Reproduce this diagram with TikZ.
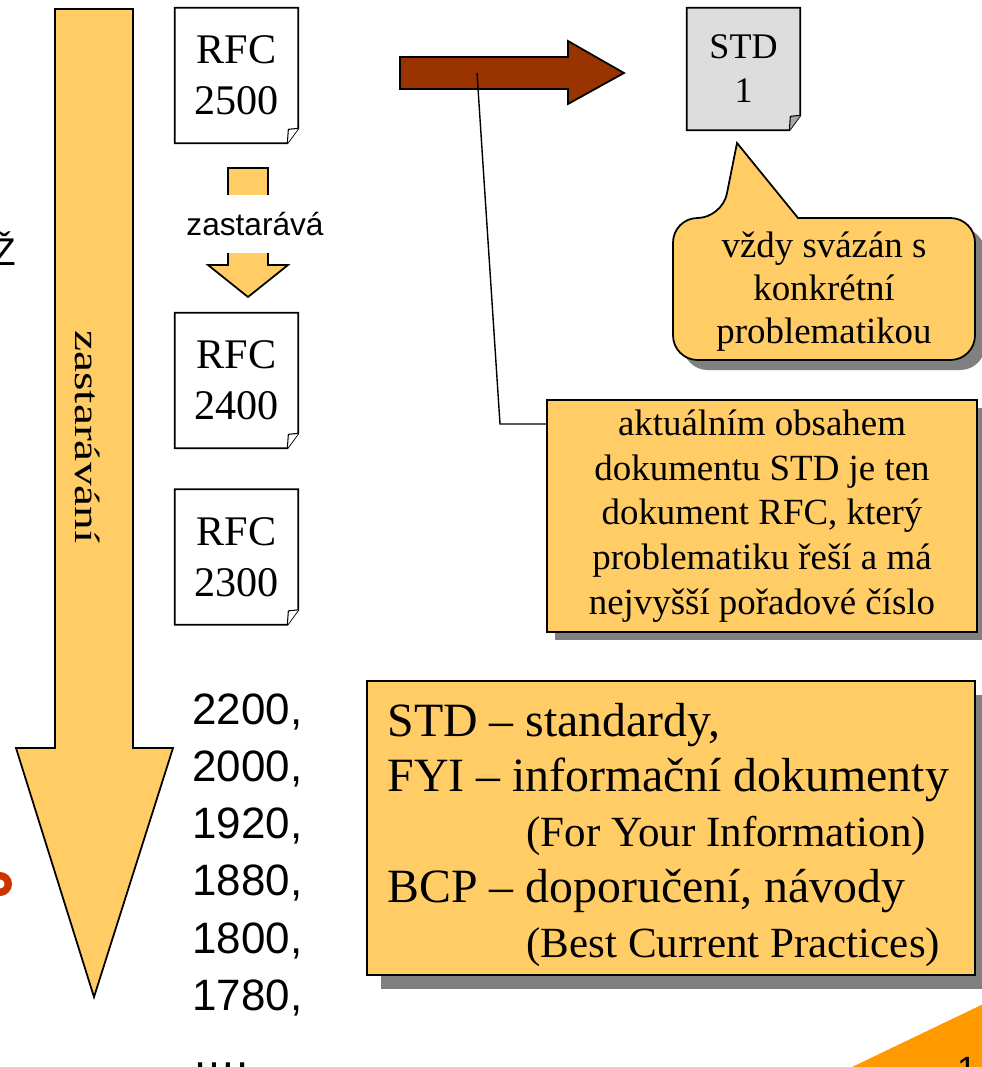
\documentclass[tikz,border=0pt]{standalone}
\usepackage{fontspec}
\setmainfont{Liberation Serif}
\setsansfont{Liberation Sans}
\usetikzlibrary{shadows,backgrounds}
\definecolor{zluta}{HTML}{FFCC66}
\definecolor{hneda}{HTML}{993300}
\definecolor{seda}{HTML}{DDDDDD}
\definecolor{stin}{HTML}{808080}
\definecolor{oranzova}{HTML}{FF9900}
\definecolor{cervena}{HTML}{CC3300}
\newcommand{\mensi}{\fontsize{24.5pt}{31.5pt}\selectfont}

\begin{document}
\begin{tikzpicture}[x=0.02cm, y=-0.02cm,
        dokument/.style={minimum width=2.46cm, minimum height=2.7cm, inner sep=0pt, align=center, font=\fontsize{24pt}{29pt}\selectfont},
        sipka/.style={fill=zluta, draw=black, line width=1pt},
        ramec/.style={fill=zluta, draw=black, line width=1pt, drop shadow={shadow xshift=#1, shadow yshift=-#1, fill=stin, opacity=1}},
        ramec/.default=0.16cm,
        cisla/.style={font=\sffamily\fontsize{25pt}{32.6pt}\selectfont, align=left, inner sep=0pt}
    ]
        \useasboundingbox (0,0) rectangle (982,1067);

        % Okraje snimku
        \node[font=\sffamily\fontsize{22pt}{26pt}\selectfont, anchor=base east, inner sep=0pt] (pismeno) at (16,266) {Ž};
        \draw[cervena, line width=4.2pt] (0,884) circle[radius=0.166cm];
        \fill[oranzova] (852,1067) -- (1000,996) -- (1000,1080) -- (852,1080) -- cycle;
        \node[font=\sffamily\fontsize{20pt}{24pt}\selectfont, anchor=north, inner sep=0pt] (strana) at (967,1057) {1};

        % Velka sipka
        \draw[sipka] (55,9) -- (133,9) -- (133,748) -- (173,748) -- (94,997) -- (16,748) -- (55,748) -- cycle;
        \node[rotate=-90, inner sep=0pt, font=\fontsize{20pt}{24pt}\selectfont] (zastaravani) at (88,437) {\scalebox{1.35}[1]{zastarávání}};

        % Mala sipka
        \draw[sipka] (228,168) -- (268,168) -- (268,265) -- (288,265) -- (248,297) -- (208,265) -- (228,265) -- cycle;
        \node[fill=white, minimum height=1.16cm, inner sep=1pt, font=\sffamily\fontsize{18pt}{22pt}\selectfont] (zastarava) at (255,224) {zastarává};

        % Dokumenty
        \node[dokument] (rfcA) at (236.5,75.5) {RFC\\2500};
        \node[dokument] (rfcB) at (236.5,380.5) {RFC\\2400};
        \node[dokument] (rfcC) at (236.5,557) {RFC\\2300};
        \node[dokument, minimum width=2.26cm, minimum height=2.44cm, font=\fontsize{20.5pt}{25pt}\selectfont] (std) at (743.5,69) {STD\\1};
        \begin{scope}[on background layer]
            \foreach \d/\barva/\ohyb in {rfcA/white/white, rfcB/white/white, rfcC/white/white, std/seda/seda!75!black}{
                \draw[fill=\barva, line width=1pt] (\d.north west) -- (\d.north east) -- ([yshift=0.3cm]\d.south east) -- ([xshift=-0.22cm]\d.south east) -- (\d.south west) -- cycle;
                \draw[fill=\ohyb, line width=0.6pt] ([yshift=0.3cm]\d.south east) -- ([xshift=-0.2cm, yshift=0.28cm]\d.south east) -- ([xshift=-0.22cm]\d.south east);
            }
        \end{scope}

        % Hneda sipka
        \draw[fill=hneda, line width=1pt] (400,57) -- (568,57) -- (568,41) -- (624,73) -- (568,104) -- (568,89) -- (400,89) -- cycle;

        % Bublina
        \fill[stin, rounded corners=14pt] (683,228) rectangle (985,370);
        \draw[fill=zluta, line width=1pt] (722,218) -- (737,143) -- (798,218) [rounded corners=14pt] -- (975,218) -- (975,360) -- (673,360) -- (673,218) -- cycle;
        \node[align=center, inner sep=0pt, font=\fontsize{21pt}{24.5pt}\selectfont] (vazba) at (824,292) {vždy svázán s\\konkrétní\\problematikou};

        % Popisek s carou
        \node[ramec, minimum width=8.6cm, minimum height=4.64cm, inner sep=0pt, align=center, font=\fontsize{21pt}{25.5pt}\selectfont] (obsah) at (762,516) {aktuálním obsahem\\dokumentu STD je ten\\dokument RFC, který\\problematiku řeší a má\\nejvyšší pořadové číslo};
        \coordinate (kolik) at (477,73);
        \coordinate (zlom) at (500,424);
        \draw[line width=0.8pt] (kolik) -- (zlom) -- (obsah.west |- zlom);

        % Cisla
        \node[cisla, anchor=north west] (starsi) at (192,693) {2200,\\2000,\\1920,\\1880,\\1800,\\1780,\\….};

        % Zkratky
        \node[ramec=0.28cm, minimum width=12.16cm, minimum height=5.88cm] (zkratky) at (671,828) {};
        \node[anchor=north west, inner sep=0pt, align=left, font=\fontsize{27.2pt}{31.5pt}\selectfont] (vyklad) at ([xshift=0.42cm, yshift=-0.45cm]zkratky.north west) {STD – standardy,\\FYI – informační dokumenty\\{\mensi\hspace*{2.78cm}(For Your Information)}\\BCP – doporučení, návody\\{\mensi\hspace*{2.78cm}(Best Current Practices)}};
    \end{tikzpicture}
\end{document}
